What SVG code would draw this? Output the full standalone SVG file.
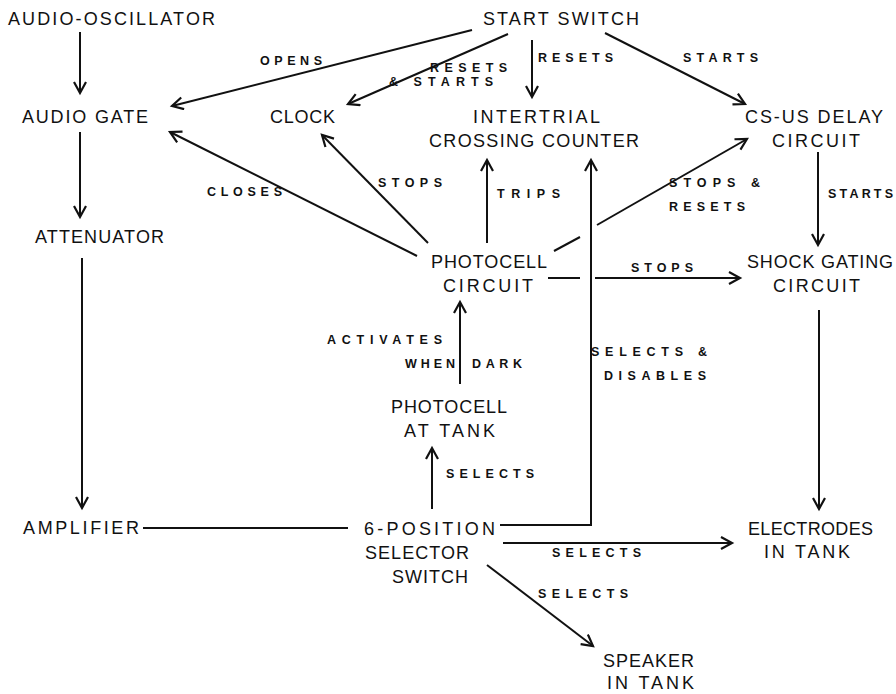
<svg xmlns="http://www.w3.org/2000/svg" width="896" height="694" viewBox="0 0 896 694">
<style>
.n{font-family:"Liberation Sans",Arial,sans-serif;font-size:18px;fill:#111;}
.l{font-family:"Liberation Sans",Arial,sans-serif;font-size:12.5px;font-weight:bold;fill:#111;}
.c{stroke:#111;stroke-width:2;fill:none;}
.a{marker-end:url(#ah);}
</style>
<defs>
<marker id="ah" markerUnits="userSpaceOnUse" markerWidth="16" markerHeight="16" refX="12" refY="7" orient="auto" viewBox="0 0 16 16">
<path d="M1,1 L12,7 L1,13" fill="none" stroke="#111" stroke-width="2.2"/>
</marker>
</defs>
<rect width="896" height="694" fill="#fff"/>
<g id="connectors">
<line class="c a" x1="80" y1="32" x2="80" y2="93"/>
<line class="c a" x1="80" y1="132" x2="80" y2="217"/>
<line class="c a" x1="82" y1="258" x2="82" y2="508"/>
<line class="c" x1="143" y1="528" x2="348" y2="528"/>
<line class="c a" x1="472" y1="30" x2="172" y2="106"/>
<line class="c a" x1="508" y1="34" x2="348" y2="104"/>
<line class="c a" x1="532" y1="40" x2="532" y2="97"/>
<line class="c a" x1="605" y1="33" x2="745" y2="104"/>
<line class="c a" x1="417" y1="256" x2="170" y2="132"/>
<line class="c a" x1="428" y1="243" x2="322" y2="135"/>
<line class="c a" x1="487" y1="243" x2="487" y2="160"/>
<line class="c" x1="554" y1="251" x2="580" y2="237"/>
<line class="c a" x1="597" y1="225" x2="747" y2="139"/>
<line class="c" x1="548" y1="278" x2="580" y2="278"/>
<line class="c a" x1="595" y1="278" x2="740" y2="278"/>
<line class="c a" x1="818" y1="152" x2="818" y2="245"/>
<line class="c a" x1="819" y1="310" x2="819" y2="509"/>
<line class="c a" x1="460" y1="384" x2="460" y2="302"/>
<line class="c a" x1="432" y1="509" x2="432" y2="448"/>
<polyline class="c a" points="500,525 591,525 591,160"/>
<line class="c a" x1="503" y1="543" x2="732" y2="543"/>
<line class="c a" x1="487" y1="565" x2="593" y2="646"/>
</g>
<g id="edge-labels">
<text class="l" x="260" y="65" textLength="62" lengthAdjust="spacing">OPENS</text>
<text class="l" x="430" y="72" textLength="77" lengthAdjust="spacing">RESETS</text>
<text class="l" x="389" y="86" textLength="104" lengthAdjust="spacing">&amp; STARTS</text>
<text class="l" x="538" y="62" textLength="75" lengthAdjust="spacing">RESETS</text>
<text class="l" x="683" y="62" textLength="75" lengthAdjust="spacing">STARTS</text>
<text class="l" x="207" y="196" textLength="75" lengthAdjust="spacing">CLOSES</text>
<text class="l" x="378" y="187" textLength="64" lengthAdjust="spacing">STOPS</text>
<text class="l" x="497" y="198" textLength="63" lengthAdjust="spacing">TRIPS</text>
<text class="l" x="669" y="187" textLength="91" lengthAdjust="spacing">STOPS &amp;</text>
<text class="l" x="669" y="211" textLength="76" lengthAdjust="spacing">RESETS</text>
<text class="l" x="828" y="198" textLength="65" lengthAdjust="spacing">STARTS</text>
<text class="l" x="631" y="272" textLength="62" lengthAdjust="spacing">STOPS</text>
<text class="l" x="327" y="344" textLength="115" lengthAdjust="spacing">ACTIVATES</text>
<text class="l" x="405" y="368" textLength="50" lengthAdjust="spacing">WHEN</text>
<text class="l" x="472" y="368" textLength="50" lengthAdjust="spacing">DARK</text>
<text class="l" x="591" y="356" textLength="116" lengthAdjust="spacing">SELECTS &amp;</text>
<text class="l" x="604" y="380" textLength="102" lengthAdjust="spacing">DISABLES</text>
<text class="l" x="446" y="478" textLength="88" lengthAdjust="spacing">SELECTS</text>
<text class="l" x="552" y="557" textLength="89" lengthAdjust="spacing">SELECTS</text>
<text class="l" x="538" y="598" textLength="90" lengthAdjust="spacing">SELECTS</text>
</g>
<g id="audio-oscillator"><text class="n" x="8" y="25" textLength="207" lengthAdjust="spacing">AUDIO-OSCILLATOR</text></g>
<g id="start-switch"><text class="n" x="483" y="25" textLength="156" lengthAdjust="spacing">START SWITCH</text></g>
<g id="audio-gate"><text class="n" x="22" y="123" textLength="126" lengthAdjust="spacing">AUDIO GATE</text></g>
<g id="clock"><text class="n" x="270" y="123" textLength="65" lengthAdjust="spacing">CLOCK</text></g>
<g id="intertrial-counter">
<text class="n" x="473" y="123" textLength="127" lengthAdjust="spacing">INTERTRIAL</text>
<text class="n" x="429" y="147" textLength="210" lengthAdjust="spacing">CROSSING COUNTER</text>
</g>
<g id="cs-us-delay">
<text class="n" x="745" y="123" textLength="138" lengthAdjust="spacing">CS-US DELAY</text>
<text class="n" x="772" y="147" textLength="88" lengthAdjust="spacing">CIRCUIT</text>
</g>
<g id="attenuator"><text class="n" x="35" y="243" textLength="129" lengthAdjust="spacing">ATTENUATOR</text></g>
<g id="photocell-circuit">
<text class="n" x="431" y="268" textLength="116" lengthAdjust="spacing">PHOTOCELL</text>
<text class="n" x="443" y="292" textLength="90" lengthAdjust="spacing">CIRCUIT</text>
</g>
<g id="shock-gating">
<text class="n" x="747" y="268" textLength="146" lengthAdjust="spacing">SHOCK GATING</text>
<text class="n" x="773" y="292" textLength="87" lengthAdjust="spacing">CIRCUIT</text>
</g>
<g id="photocell-tank">
<text class="n" x="391" y="413" textLength="116" lengthAdjust="spacing">PHOTOCELL</text>
<text class="n" x="404" y="437" textLength="91" lengthAdjust="spacing">AT TANK</text>
</g>
<g id="amplifier"><text class="n" x="23" y="534" textLength="116" lengthAdjust="spacing">AMPLIFIER</text></g>
<g id="selector-switch">
<text class="n" x="364" y="535" textLength="131" lengthAdjust="spacing">6-POSITION</text>
<text class="n" x="365" y="559" textLength="104" lengthAdjust="spacing">SELECTOR</text>
<text class="n" x="392" y="583" textLength="76" lengthAdjust="spacing">SWITCH</text>
</g>
<g id="electrodes">
<text class="n" x="748" y="535" textLength="125" lengthAdjust="spacing">ELECTRODES</text>
<text class="n" x="764" y="558" textLength="86" lengthAdjust="spacing">IN TANK</text>
</g>
<g id="speaker">
<text class="n" x="603" y="667" textLength="91" lengthAdjust="spacing">SPEAKER</text>
<text class="n" x="607" y="689" textLength="87" lengthAdjust="spacing">IN TANK</text>
</g>
</svg>
